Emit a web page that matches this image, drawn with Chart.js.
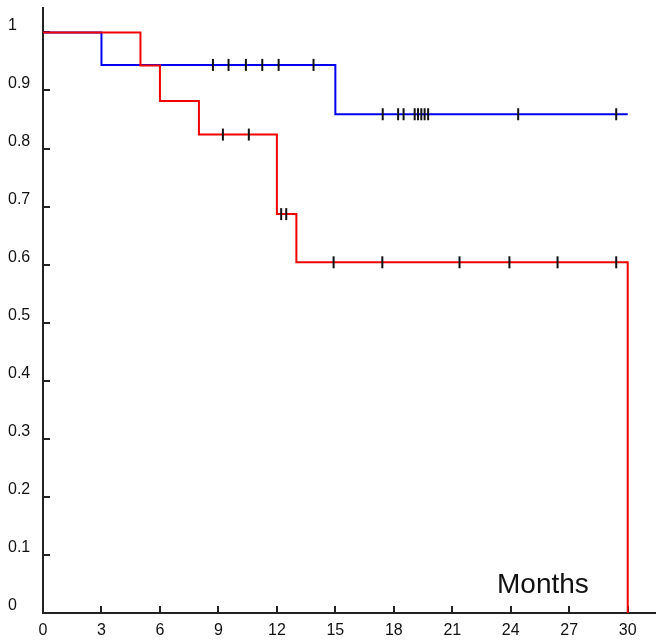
<!DOCTYPE html>
<html>
<head>
<meta charset="utf-8">
<script src="https://cdn.jsdelivr.net/npm/chart.js@4"></script>
<style>
  html, body { margin: 0; padding: 0; background: #fff; }
  canvas { display: block; }
</style>
</head>
<body>
<canvas id="kmChart" width="664" height="641"></canvas>
<script>
// Curvas de supervivencia (meses, proporción)
const redTimes = [0, 5, 6, 8, 12, 13, 30, 30];
const redSurv = [1, 0.943, 0.882, 0.824, 0.687, 0.604, 0.604, 0];
const blueTimes = [0, 3, 15, 30];
const blueSurv = [1, 0.944, 0.859, 0.859];

// Marcas de censura
const redCensorTimes = [9.23, 10.56, 12.22, 12.48, 14.91, 17.41, 21.37, 23.93, 26.4, 29.41];
const redCensorSurv = [0.824, 0.824, 0.687, 0.687, 0.604, 0.604, 0.604, 0.604, 0.604, 0.604];
const blueCensorTimes = [8.72, 9.52, 10.41, 11.25, 12.09, 13.88, 17.43, 18.22, 18.5, 19.07, 19.24, 19.41, 19.58, 19.76, 24.38, 29.41];
const blueCensorSurv = [0.944, 0.944, 0.944, 0.944, 0.944, 0.944, 0.859, 0.859, 0.859, 0.859, 0.859, 0.859, 0.859, 0.859, 0.859, 0.859];

// Etiquetas de los ejes
const xTickValues = [0, 3, 6, 9, 12, 15, 18, 21, 24, 27, 30];
const yTickValues = [0, 0.1, 0.2, 0.3, 0.4, 0.5, 0.6, 0.7, 0.8, 0.9, 1];
const xTitle = 'Months';

const toPoints = (xs, ys) => xs.map((x, i) => ({ x: x, y: ys[i] }));

// Marcas de graduación hacia dentro + título "Months"
const innerTicks = {
    id: 'innerTicks',
    beforeDatasetsDraw(chart) {
        const ctx = chart.ctx;
        const xs = chart.scales.x, ys = chart.scales.y;
        const area = chart.chartArea;
        ctx.save();
        ctx.strokeStyle = '#222';
        ctx.lineWidth = 2;
        xTickValues.forEach(v => {
            if (v === 0) return;
            const px = Math.round(xs.getPixelForValue(v));
            ctx.beginPath();
            ctx.moveTo(px, area.bottom);
            ctx.lineTo(px, area.bottom - 7);
            ctx.stroke();
        });
        yTickValues.forEach(v => {
            if (v === 0) return;
            const py = Math.round(ys.getPixelForValue(v));
            ctx.beginPath();
            ctx.moveTo(area.left, py);
            ctx.lineTo(area.left + 7, py);
            ctx.stroke();
        });
        ctx.restore();
    },
    afterDraw(chart) {
        const ctx = chart.ctx;
        const area = chart.chartArea;
        ctx.save();
        ctx.fillStyle = '#111';
        ctx.font = '28px "Liberation Sans", Arial, sans-serif';
        ctx.textBaseline = 'alphabetic';
        ctx.textAlign = 'left';
        ctx.fillText(xTitle, area.left + 454, area.bottom - 20);
        ctx.restore();
    }
};

const ctx = document.getElementById('kmChart').getContext('2d');
const kmChart = new Chart(ctx, {
    type: 'scatter',
    data: {
        datasets: [{
            data: toPoints(redCensorTimes, redCensorSurv),
            pointStyle: 'line',
            rotation: 90,
            radius: 6,
            borderColor: '#111',
            backgroundColor: '#111',
            borderWidth: 2,
            showLine: false
        }, {
            data: toPoints(blueCensorTimes, blueCensorSurv),
            pointStyle: 'line',
            rotation: 90,
            radius: 6,
            borderColor: '#111',
            backgroundColor: '#111',
            borderWidth: 2,
            showLine: false
        }, {
            data: toPoints(redTimes, redSurv),
            borderColor: '#f00000',
            borderWidth: 2,
            pointRadius: 0,
            showLine: true,
            stepped: 'before'
        }, {
            data: toPoints(blueTimes, blueSurv),
            borderColor: '#0000f0',
            borderWidth: 2,
            pointRadius: 0,
            showLine: true,
            stepped: 'before'
        }]
    },
    options: {
        responsive: false,
        animation: false,
        layout: {
            padding: { left: 8, right: 9, top: 3, bottom: 0 }
        },
        plugins: {
            legend: { display: false },
            tooltip: { enabled: false }
        },
        scales: {
            x: {
                type: 'linear',
                min: 0,
                max: 31.4,
                afterBuildTicks: s => { s.ticks = xTickValues.map(v => ({ value: v })); },
                afterFit: s => { s.height = 28; s.paddingLeft = 0; s.paddingRight = 0; },
                grid: { display: false, drawTicks: false },
                border: { display: true, color: '#222', width: 2 },
                ticks: {
                    color: '#111',
                    font: { family: '"Liberation Sans", Arial, sans-serif', size: 16 },
                    padding: 8,
                    maxRotation: 0,
                    autoSkip: false,
                    callback: v => String(v)
                }
            },
            y: {
                type: 'linear',
                min: 0,
                max: 1.042,
                afterBuildTicks: s => { s.ticks = yTickValues.map(v => ({ value: v })); },
                afterFit: s => { s.width = 35; s.paddingTop = 0; s.paddingBottom = 0; },
                grid: { display: false, drawTicks: false },
                border: { display: true, color: '#222', width: 2 },
                ticks: {
                    color: '#111',
                    font: { family: '"Liberation Sans", Arial, sans-serif', size: 16 },
                    crossAlign: 'far',
                    labelOffset: -7,
                    padding: 0,
                    autoSkip: false,
                    callback: v => String(v)
                }
            }
        }
    },
    plugins: [innerTicks]
});
</script>
</body>
</html>
